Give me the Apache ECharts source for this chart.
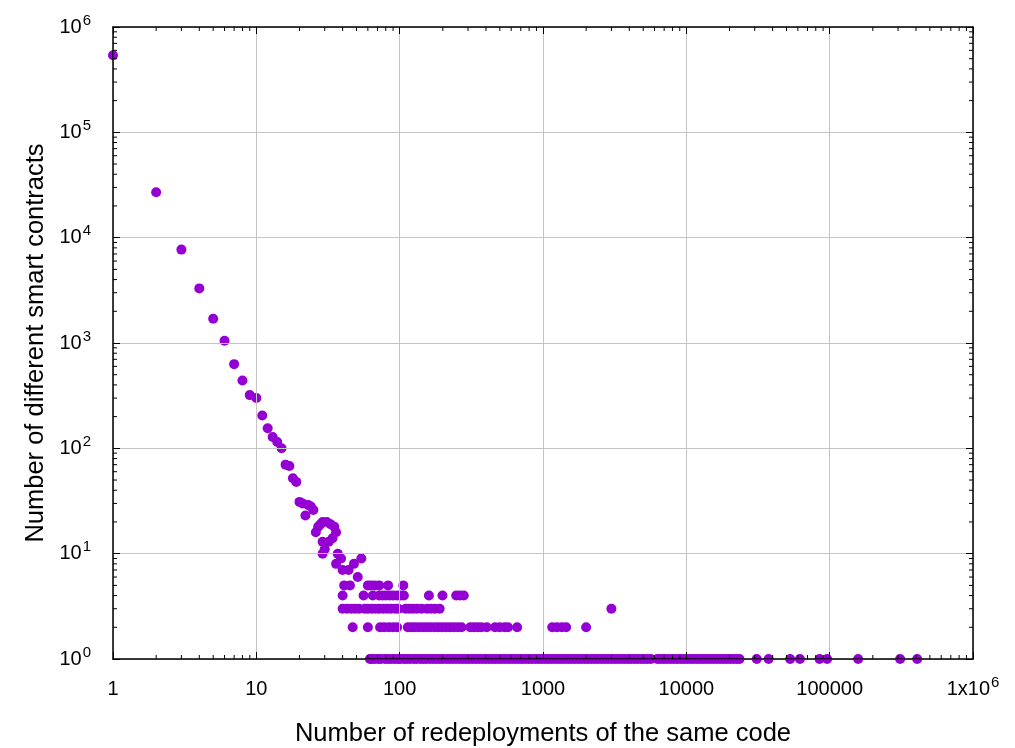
<!DOCTYPE html>
<html>
<head>
<meta charset="utf-8">
<script src="https://cdn.jsdelivr.net/npm/echarts@6/dist/echarts.min.js"></script>
<style>
  html, body { margin: 0; padding: 0; background: #fff; }
  #chart { width: 1015px; height: 748px; }
</style>
</head>
<body>
<div id="chart"></div>
<script>
// contracts redeployed only a few times (x = redeployments, y = contracts)
const headX = [1, 2, 3, 4, 5, 6, 7, 8, 9, 10, 11, 12, 13, 14, 15, 16, 17, 18, 19,
  20, 21, 22, 23, 24, 25, 26, 27, 28, 29, 31, 33, 35, 36, 34, 32, 29, 30, 29,
  37, 39, 36, 40, 44, 48, 54, 51];
const headY = [540000, 27000, 7700, 3300, 1700, 1050, 630, 440, 320, 300, 205, 155, 128, 115, 100, 70, 68, 52, 48,
  31, 30, 23, 29, 28, 26, 16, 18, 19, 20, 20, 19, 18, 16, 14, 13, 13, 11, 10,
  10, 9, 8, 7, 7, 8, 9, 6];

// rows of equal contract counts
const row5X = [41, 45, 60, 63, 67, 72, 83, 106];
const row4X = [40, 56, 65, 72, 76, 80, 85, 90, 96, 102, 107, 160, 199, 248, 263, 280];
const row3X = [40, 43, 46, 49, 52, 57, 60, 64, 68, 72, 77, 82, 87, 93, 98,
  110, 117, 124, 132, 142, 155, 165, 176, 190, 3000];
const row2X = [47, 60, 73, 78, 84, 90, 96, 114, 121, 128, 136, 145, 154, 164, 175, 186,
  198, 211, 224, 238, 254, 270, 311, 330, 350, 372, 405, 463, 500, 540, 570, 660,
  1160, 1250, 1350, 1450, 2000];
const row1X = [62, 64, 67, 71, 74, 79, 83, 87, 92, 97, 101, 107, 112, 118, 125, 131, 139, 146,
  153, 162, 171, 180, 190, 199, 211, 222, 234, 247, 261, 275, 290, 305, 322, 340, 358, 377,
  398, 420, 443, 466, 492, 519, 547, 577, 608, 641, 676, 713, 752, 793, 836, 882, 930, 981,
  1034, 1090, 1150, 1213, 1279, 1349, 1422, 1500, 1582, 1668, 1759, 1855, 1956, 2063, 2175,
  2294, 2419, 2551, 2690, 2837, 2992, 3155, 3327, 3509, 3700, 3902, 4115, 4340, 4577, 4826,
  5090, 5367, 5660, 6280, 6620, 6980, 7360, 7770, 8190, 8640, 9110, 9600, 10130, 10680,
  11260, 11880, 12530, 13210, 13930, 14690, 15490, 16340, 17230, 18170, 19160, 20200,
  21300, 22470, 23500, 31000, 37500, 53000, 62000, 85000, 96000, 158000, 310000, 408000];

const axisMin = 1;
const axisMax = 1000000;

// minor ticks at 2..9 of every decade
const minorTicks = [];
for (let d = 1; d < axisMax; d *= 10) {
  for (let m = 2; m <= 9; m++) minorTicks.push(m * d);
}

const points = headX.map((x, i) => [x, headY[i]])
  .concat(row5X.map(x => [x, 5]))
  .concat(row4X.map(x => [x, 4]))
  .concat(row3X.map(x => [x, 3]))
  .concat(row2X.map(x => [x, 2]))
  .concat(row1X.map(x => [x, 1]));

const font = 'Liberation Sans, Arial, sans-serif';
const tickStyle = { stroke: '#000', lineWidth: 1 };

function minorX(params, api) {
  const b = api.coord([api.value(0), axisMin]);
  const t = api.coord([api.value(0), axisMax]);
  return {
    type: 'group',
    children: [
      { type: 'line', shape: { x1: b[0], y1: b[1], x2: b[0], y2: b[1] - 4 }, style: tickStyle },
      { type: 'line', shape: { x1: t[0], y1: t[1], x2: t[0], y2: t[1] + 4 }, style: tickStyle }
    ]
  };
}

function minorY(params, api) {
  const l = api.coord([axisMin, api.value(1)]);
  const r = api.coord([axisMax, api.value(1)]);
  return {
    type: 'group',
    children: [
      { type: 'line', shape: { x1: l[0], y1: l[1], x2: l[0] + 4, y2: l[1] }, style: tickStyle },
      { type: 'line', shape: { x1: r[0], y1: r[1], x2: r[0] - 4, y2: r[1] }, style: tickStyle }
    ]
  };
}

const supRich = {
  s: { fontSize: 15, fontFamily: font, color: '#000', padding: [0, 0, 13, 1] }
};

const chart = echarts.init(document.getElementById('chart'));
chart.setOption({
  animation: false,
  backgroundColor: '#fff',
  grid: { left: 113, right: 42, top: 27, bottom: 89, outerBoundsMode: 'none', containLabel: false },
  xAxis: [{
    type: 'log',
    min: axisMin,
    max: axisMax,
    z: 5,
    name: 'Number of redeployments of the same code',
    nameLocation: 'middle',
    nameGap: 62,
    nameTextStyle: { fontSize: 25.5, fontFamily: font, color: '#000' },
    axisLine: { lineStyle: { color: '#000', width: 1.5 } },
    axisTick: { inside: true, length: 7, lineStyle: { color: '#000' } },
    splitLine: { show: true, lineStyle: { color: '#c4c4c4', width: 1 } },
    axisLabel: {
      margin: 15,
      fontSize: 20,
      lineHeight: 30,
      fontFamily: font,
      color: '#000',
      rich: supRich,
      formatter: v => (Math.round(v) === axisMax ? '1x10{s|6}' : String(Math.round(v)))
    }
  }, {
    type: 'log',
    position: 'top',
    min: axisMin,
    max: axisMax,
    z: 5,
    axisLine: { lineStyle: { color: '#000', width: 1.5 } },
    axisTick: { inside: true, length: 7, lineStyle: { color: '#000' } },
    splitLine: { show: false },
    axisLabel: { show: false }
  }],
  yAxis: [{
    type: 'log',
    min: axisMin,
    max: axisMax,
    z: 5,
    name: 'Number of different smart contracts',
    nameLocation: 'middle',
    nameGap: 63,
    nameTextStyle: { fontSize: 25.5, fontFamily: font, color: '#000' },
    axisLine: { lineStyle: { color: '#000', width: 1.5 } },
    axisTick: { inside: true, length: 7, lineStyle: { color: '#000' } },
    splitLine: { show: true, lineStyle: { color: '#c4c4c4', width: 1 } },
    axisLabel: {
      margin: 22,
      fontSize: 20,
      lineHeight: 30,
      fontFamily: font,
      color: '#000',
      rich: supRich,
      formatter: v => '10{s|' + Math.round(Math.log10(v)) + '}'
    }
  }, {
    type: 'log',
    position: 'right',
    min: axisMin,
    max: axisMax,
    z: 5,
    axisLine: { lineStyle: { color: '#000', width: 1.5 } },
    axisTick: { inside: true, length: 7, lineStyle: { color: '#000' } },
    splitLine: { show: false },
    axisLabel: { show: false }
  }],
  series: [{
    type: 'scatter',
    data: points,
    symbol: 'circle',
    symbolSize: 10,
    clip: false,
    itemStyle: { color: '#9400d3', opacity: 1 },
    z: 2
  }, {
    type: 'custom',
    data: minorTicks.map(v => [v, axisMin]),
    renderItem: minorX,
    clip: false,
    silent: true,
    z: 6
  }, {
    type: 'custom',
    data: minorTicks.map(v => [axisMin, v]),
    renderItem: minorY,
    clip: false,
    silent: true,
    z: 6
  }]
});
window.addEventListener('resize', () => chart.resize());
</script>
</body>
</html>
